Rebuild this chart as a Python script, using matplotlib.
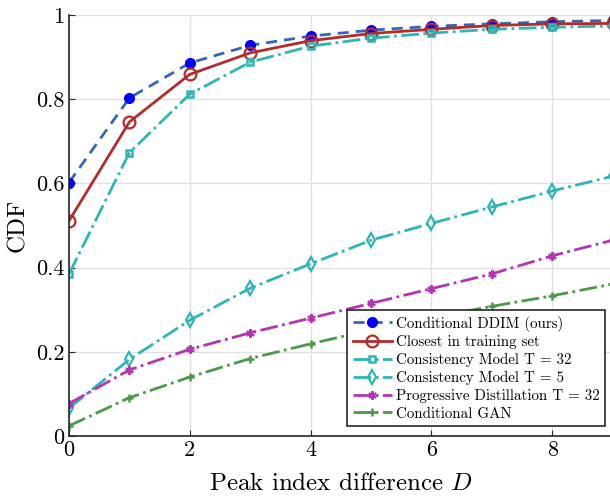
import numpy as np
import matplotlib
matplotlib.use('Agg')
import matplotlib.pyplot as plt

# Data
D = [0, 1, 2, 3, 4, 5, 6, 7, 8, 9]
ddim = [0.602, 0.803, 0.886, 0.928, 0.950, 0.964, 0.973, 0.979, 0.984, 0.987]
closest = [0.511, 0.746, 0.859, 0.910, 0.939, 0.956, 0.966, 0.975, 0.979, 0.980]
cm32 = [0.385, 0.673, 0.812, 0.888, 0.926, 0.945, 0.957, 0.966, 0.971, 0.974]
cm5 = [0.066, 0.182, 0.275, 0.351, 0.409, 0.465, 0.505, 0.544, 0.582, 0.617]
pd32 = [0.077, 0.157, 0.206, 0.245, 0.280, 0.315, 0.350, 0.385, 0.428, 0.465]
gan = [0.024, 0.091, 0.140, 0.184, 0.219, 0.252, 0.281, 0.308, 0.333, 0.361]

labels = ['Conditional DDIM (ours)', 'Closest in training set',
          'Consistency Model T = 32', 'Consistency Model T = 5',
          'Progressive Distillation T = 32', 'Conditional GAN']

plt.rcParams['font.family'] = 'serif'
plt.rcParams['font.serif'] = ['cmr10']
plt.rcParams['mathtext.fontset'] = 'cm'
plt.rcParams['axes.unicode_minus'] = False

fig = plt.figure(figsize=(6.10, 4.96), dpi=100)
ax = fig.add_axes([69 / 610, 60 / 496, 543.6 / 610, 421 / 496])

teal = '#2fb5b5'
ax.plot(D, ddim, '--', color='#3465b8', lw=2, marker='o', ms=7,
        mfc='#0000ff', mec='#0000ff', dashes=(4, 2.5), label=labels[0])
ax.plot(D, closest, '-', color='#b22c2c', lw=2, marker='o', ms=8.5,
        mfc='none', mec='#b22c2c', mew=1.6, label=labels[1])
ax.plot(D, cm32, '-.', color=teal, lw=2, marker='s', ms=5,
        mfc='none', mec=teal, mew=1.8, label=labels[2])
ax.plot(D, cm5, '-.', color=teal, lw=2, marker='d', ms=7,
        mfc='none', mec=teal, mew=1.6, label=labels[3])
ax.plot(D, pd32, '-.', color='#b533b5', lw=2, marker=(6, 2, 0), ms=6,
        mew=1.6, label=labels[4])
ax.plot(D, gan, '-.', color='#4a9a4a', lw=2, marker='+', ms=6,
        mew=1.8, label=labels[5])

ax.set_xlim(0, 9)
ax.set_ylim(0, 1)
ax.set_xticks([0, 2, 4, 6, 8])
ax.set_xticklabels(['0', '2', '4', '6', '8'])
ax.set_yticks([0, 0.2, 0.4, 0.6, 0.8, 1])
ax.set_yticklabels(['0', '0.2', '0.4', '0.6', '0.8', '1'])
ax.tick_params(labelsize=16, direction='in', length=4, color='#262626')
ax.grid(True, color='#e0e0e0', lw=1)
ax.set_axisbelow(True)
for s in ['top', 'right']:
    ax.spines[s].set_visible(False)
for s in ['left', 'bottom']:
    ax.spines[s].set_color('#262626')
    ax.spines[s].set_linewidth(1.2)

ax.set_xlabel('Peak index difference $D$', fontsize=18, labelpad=9)
ax.set_ylabel('CDF', fontsize=18, labelpad=5)

leg = ax.legend(loc='lower left', bbox_to_anchor=(0.512, 0.024), fontsize=10.8,
                frameon=True, fancybox=False, edgecolor='#262626',
                framealpha=1, handlelength=2.6, handletextpad=0.3,
                labelspacing=0.25, borderpad=0.35, borderaxespad=0)
leg.get_frame().set_linewidth(1.2)

fig.savefig('out.png', dpi=100)
